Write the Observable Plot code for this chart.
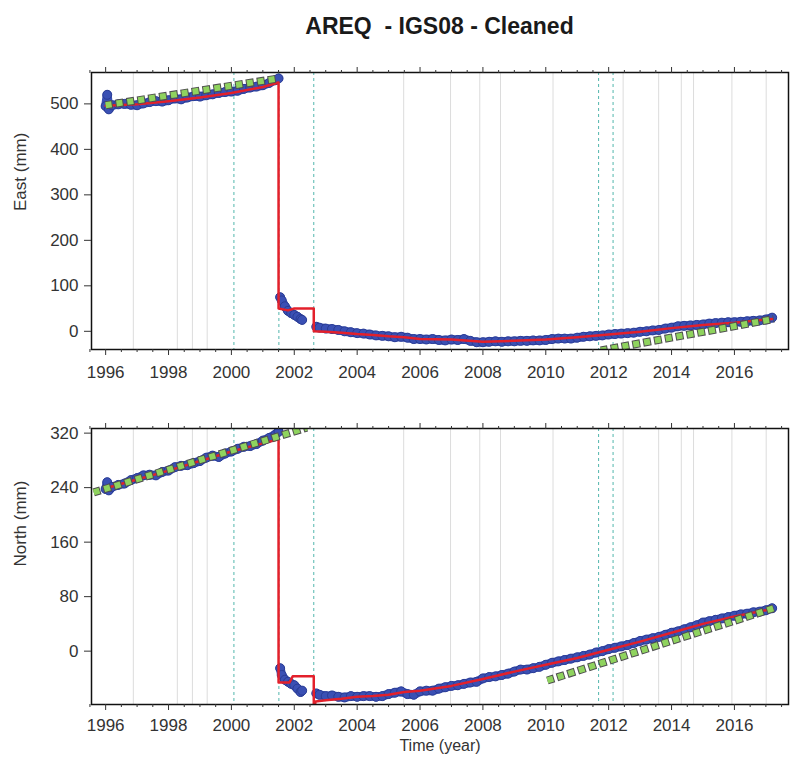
<!DOCTYPE html>
<html>
<head>
<meta charset="utf-8">
<script src="https://cdn.jsdelivr.net/npm/d3@7"></script>
<script src="https://cdn.jsdelivr.net/npm/@observablehq/plot@0.6"></script>
<style>
  html, body { margin: 0; padding: 0; background: white; }
  #wrap { position: relative; width: 790px; height: 760px; overflow: hidden; background: white; }
  #title { position: absolute; left: 91px; width: 697px; top: 11px; height: 30px; line-height: 30px;
           text-align: center; font-family: "Liberation Sans", Arial, sans-serif; font-weight: bold;
           font-size: 23px; color: #1a1a1a; white-space: pre; }
  #p1 { position: absolute; left: 0; top: 40px; }
  #p2 { position: absolute; left: 0; top: 389px; }
</style>
</head>
<body>
<div id="wrap">
  <div id="title">AREQ  - IGS08 - Cleaned</div>
  <div id="p1"></div>
  <div id="p2"></div>
</div>
<script>
// ---------- DATA ----------
const titleText = "AREQ  - IGS08 - Cleaned";
const xDomain = [1995.55, 2017.72];
const majorYears = [1996, 1998, 2000, 2002, 2004, 2006, 2008, 2010, 2012, 2014, 2016];
const minorYears = [1995.5,1996.5,1997,1997.5,1998.5,1999,1999.5,2000.5,2001,2001.5,2002.5,2003,2003.5,2004.5,2005,2005.5,2006.5,2007,2007.5,2008.5,2009,2009.5,2010.5,2011,2011.5,2012.5,2013,2013.5,2014.5,2015,2015.5,2016.5,2017,2017.5];
const eastTicks = [0, 100, 200, 300, 400, 500];
const northTicks = [0, 80, 160, 240, 320];

// reference epochs (light gray) and equipment/earthquake epochs (cyan dashed)
const grayEpochs = [1996.88, 1998.28, 1998.76, 1999.23, 2005.48, 2006.97, 2007.90, 2008.56, 2010.23, 2012.46, 2013.59, 2014.31, 2014.70, 2015.92, 2017.01];
const cyanEpochs = [2000.08, 2001.51, 2002.62, 2011.68, 2012.14];

// observation epochs (three continuous segments)
const obsTime1 = [1996.0,1996.05,1996.1,1996.2,1996.4,1996.6,1996.8,1997.0,1997.2,1997.4,1997.6,1997.8,1998.0,1998.2,1998.4,1998.6,1998.8,1999.0,1999.2,1999.4,1999.6,1999.8,2000.0,2000.2,2000.4,2000.6,2000.8,2001.0,2001.2,2001.4,2001.5];
const obsTime2 = [2001.55,2001.6,2001.7,2001.8,2001.9,2002.0,2002.1,2002.2,2002.25];
const obsTime3 = [2002.7,2002.8,2003.0,2003.2,2003.4,2003.6,2003.8,2004.0,2004.2,2004.4,2004.6,2004.8,2005.0,2005.2,2005.4,2005.6,2005.8,2006.0,2006.2,2006.4,2006.6,2006.8,2007.0,2007.2,2007.4,2007.6,2007.8,2008.0,2008.2,2008.4,2008.6,2008.8,2009.0,2009.2,2009.4,2009.6,2009.8,2010.0,2010.2,2010.4,2010.6,2010.8,2011.0,2011.2,2011.4,2011.6,2011.8,2012.0,2012.2,2012.4,2012.6,2012.8,2013.0,2013.2,2013.4,2013.6,2013.8,2014.0,2014.2,2014.4,2014.6,2014.8,2015.0,2015.2,2015.4,2015.6,2015.8,2016.0,2016.2,2016.4,2016.6,2016.8,2017.0,2017.2];

// East observations (mm)
const east1 = [495,520,488,497,499,500,498,497,501,504,506,505,508,512,510,514,517,516,519,521,524,526,527,529,533,536,538,541,546,552,556];
const east2 = [75,68,55,45,40,36,32,27,25];
const east3 = [10,8,6,5,3,0,-2,-4,-5,-7,-9,-10,-11,-13,-12,-14,-17,-17,-18,-17,-19,-20,-18,-19,-17,-21,-24,-24,-23,-22,-23,-22,-22,-21,-21,-20,-20,-19,-17,-16,-16,-16,-14,-12,-11,-10,-9,-7,-6,-5,-4,-3,-1,0,2,3,6,8,11,12,13,14,15,17,18,19,20,20,21,22,23,24,26,30];

// North observations (mm)
const north1 = [238,248,236,241,244,246,251,254,258,259,258,263,265,270,272,273,276,279,284,287,285,290,293,297,300,301,304,309,313,318,322];
const north2 = [-25,-35,-42,-45,-48,-50,-55,-60,-58];
const north3 = [-62,-64,-66,-65,-67,-68,-66,-67,-66,-66,-67,-66,-63,-61,-59,-63,-64,-59,-58,-58,-55,-53,-51,-50,-48,-46,-45,-40,-38,-37,-35,-33,-30,-27,-27,-25,-23,-20,-17,-15,-13,-11,-9,-7,-5,-2,0,3,5,7,9,12,15,17,19,21,24,27,29,32,35,38,42,44,46,48,50,52,54,55,57,58,60,63];

// Fitted model (red)
const eastModelT = [1996.0,1997.0,1998.0,1999.0,2000.0,2001.0,2001.5,2001.5,2001.8,2002.0,2002.62,2002.62,2003.0,2003.5,2004.0,2004.5,2005.0,2005.5,2006.0,2007.0,2008.0,2009.0,2010.0,2011.0,2012.0,2013.0,2014.0,2015.0,2016.0,2017.2];
const eastModelV = [496,499,506,514,524,537,547,50,46,50,50,0,-1,-3,-6,-8,-11,-13,-17,-18,-23,-21,-18,-13,-7,-1,7,14,19,27];
const northModelT = [1996.0,1997.0,1998.0,1999.0,2000.0,2001.0,2001.5,2001.5,2001.85,2001.95,2002.62,2002.62,2002.68,2003.0,2003.5,2004.0,2004.5,2005.0,2005.5,2006.0,2007.0,2008.0,2009.0,2010.0,2011.0,2012.0,2013.0,2014.0,2015.0,2016.0,2017.2];
const northModelV = [239,252,265,279,293,305,311,-46,-46,-37,-37,-85,-74,-72,-70,-67,-66,-64,-60,-58,-51,-41,-30,-20,-10,2,14,27,40,51,62];

// Linear trends (green dashed), two segments each
const eastTrendT = [1996.0, 2001.5, 2011.75, 2017.25];
const eastTrendV = [497, 556, -42, 27];
const northTrendT = [1995.62, 2002.4, 2010.05, 2017.25];
const northTrendV = [233, 328, -43, 63];
const trendSeg = ["a", "a", "b", "b"];

// ---------- BUILD ----------
const BLUE = "#3a50b4", RED = "#e3202b", GREEN = "#8fd35e";
const FONT = "'Liberation Sans', Arial, Helvetica, sans-serif";

function obsRows(v1, v2, v3) {
  return [
    ...obsTime1.map((t, i) => ({t, v: v1[i], s: 1})),
    ...obsTime2.map((t, i) => ({t, v: v2[i], s: 2})),
    ...obsTime3.map((t, i) => ({t, v: v3[i], s: 3}))
  ];
}
const trendRows = (T, V) => T.map((t, i) => ({t, v: V[i], s: trendSeg[i]}));
const modelRows = (T, V) => T.map((t, i) => ({t, v: V[i]}));

function panel({yDomain, yTicks, yLabel, obs, model, trend, marginTop, marginBottom, height, timeLabel, pad}) {
  const marks = [
    Plot.ruleX(grayEpochs, {stroke: "#dcdcdc", strokeWidth: 1}),
    Plot.ruleX(cyanEpochs, {stroke: "#52b6ad", strokeWidth: 1, strokeDasharray: "3,3"}),
    Plot.line(obs, {x: "t", y: "v", z: "s", stroke: BLUE, strokeWidth: 9, clip: true}),
    Plot.dot(obs, {x: "t", y: "v", r: 4.5, fill: BLUE, stroke: "#2a3c94", strokeWidth: 1, clip: true}),
    Plot.line(model, {x: "t", y: "v", stroke: RED, strokeWidth: 2.5, clip: true}),
    Plot.line(trend, {x: "t", y: "v", z: "s", stroke: "#505050", strokeWidth: 8, strokeLinecap: "butt", strokeDasharray: "8,3", strokeDashoffset: 1, clip: true}),
    Plot.line(trend, {x: "t", y: "v", z: "s", stroke: GREEN, strokeWidth: 6, strokeLinecap: "butt", strokeDasharray: "6,5", clip: true}),
    Plot.frame({stroke: "#111", strokeWidth: 1.5}),
    Plot.axisX({ticks: majorYears, tickSize: 6, tickPadding: pad, tickFormat: "d", label: null, fontSize: 17}),
    Plot.axisX({ticks: minorYears, tickSize: 3, tickFormat: () => "", label: null}),
    Plot.axisX({anchor: "top", ticks: majorYears, tickSize: 6, tickFormat: () => "", label: null}),
    Plot.axisX({anchor: "top", ticks: minorYears, tickSize: 3, tickFormat: () => "", label: null}),
    Plot.axisY({ticks: yTicks, tickSize: 7, tickPadding: 6, tickFormat: "d", label: null, fontSize: 17}),
    Plot.text([yLabel], {text: d => d, frameAnchor: "left", dx: -71, rotate: -90, fontSize: 17, fill: "#333"})
  ];
  if (timeLabel) marks.push(Plot.text([timeLabel], {text: d => d, frameAnchor: "bottom", dy: 46, fontSize: 16, fill: "#333"}));
  return Plot.plot({
    width: 790, height, marginLeft: 91, marginRight: 2, marginTop, marginBottom,
    style: {fontFamily: FONT, fontSize: "17px", color: "#333", background: "white", overflow: "visible"},
    x: {domain: xDomain},
    y: {domain: yDomain},
    marks
  });
}

document.getElementById("title").textContent = titleText;
document.getElementById("p1").appendChild(panel({
  yDomain: [-40, 569], yTicks: eastTicks, yLabel: "East (mm)",
  obs: obsRows(east1, east2, east3), model: modelRows(eastModelT, eastModelV),
  trend: trendRows(eastTrendT, eastTrendV), marginTop: 32, marginBottom: 40, height: 349, pad: 10
}));
document.getElementById("p2").appendChild(panel({
  yDomain: [-78.3, 326.8], yTicks: northTicks, yLabel: "North (mm)",
  obs: obsRows(north1, north2, north3), model: modelRows(northModelT, northModelV),
  trend: trendRows(northTrendT, northTrendV), marginTop: 39, marginBottom: 56, height: 371, timeLabel: "Time (year)", pad: 8
}));
</script>
</body>
</html>
